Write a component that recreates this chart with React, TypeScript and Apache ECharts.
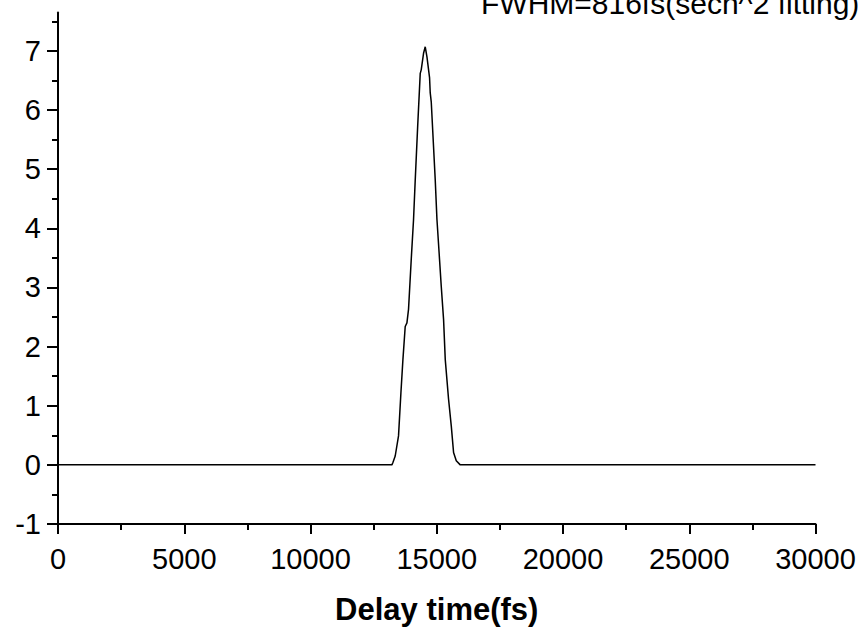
import React, { useEffect, useRef } from "react";
import * as echarts from "echarts";

// Delay time (fs) and signal
const delayFs = [
  0, 13224, 13264, 13355, 13486, 13581, 13660, 13751, 13819, 13882, 13989,
  14081, 14148, 14247, 14346, 14385, 14477, 14544, 14612, 14715, 14742, 14782,
  14940, 15008, 15111, 15178, 15270, 15337, 15468, 15575, 15666, 15773, 15931,
  30000,
];
const signal = [
  0, 0, 0.04, 0.15, 0.49, 1.22, 1.78, 2.34, 2.4, 2.63, 3.47, 4.15, 4.82, 5.75,
  6.62, 6.68, 6.96, 7.07, 6.9, 6.55, 6.29, 6.14, 4.82, 4.15, 3.47, 3.02, 2.46,
  1.78, 1.11, 0.66, 0.21, 0.07, 0, 0,
];

const yMajorTicks = [-1, 0, 1, 2, 3, 4, 5, 6, 7];
const yMinorTicks = [-0.5, 0.5, 1.5, 2.5, 3.5, 4.5, 5.5, 6.5, 7.5];
const xTitle = "Delay time(fs)";
const annotation = "FWHM=816fs(sech^2 fitting)";

const FONT = "'Liberation Sans', Arial, sans-serif";

export default function App() {
  const ref = useRef<HTMLDivElement>(null);
  useEffect(() => {
    if (!ref.current) return;
    const chart = echarts.init(ref.current, null, { renderer: "svg" });
    const yMin = -1;
    const yMax = 7.65;
    chart.setOption({
      animation: false,
      backgroundColor: "#fff",
      grid: { left: 58, right: 49.5, top: 12.5, bottom: 105 },
      xAxis: {
        type: "value",
        min: 0,
        max: 30000,
        interval: 5000,
        name: xTitle,
        nameLocation: "middle",
        nameGap: 70,
        nameTextStyle: {
          fontFamily: FONT,
          fontSize: 31,
          fontWeight: "bold",
          color: "#000",
        },
        axisLine: { onZero: false, lineStyle: { color: "#000", width: 2 } },
        axisTick: { show: true, inside: false, length: 10, lineStyle: { color: "#000", width: 2 } },
        minorTick: { show: true, splitNumber: 2, length: 6, lineStyle: { color: "#000", width: 2 } },
        axisLabel: {
          fontFamily: FONT,
          fontSize: 29,
          color: "#000",
          margin: 20,
          formatter: (v: number) => String(v),
        },
        splitLine: { show: false },
        minorSplitLine: { show: false },
      },
      yAxis: [
        {
          type: "value",
          min: yMin,
          max: yMax,
          axisLine: { onZero: false, lineStyle: { color: "#000", width: 2 } },
          axisTick: {
            show: true,
            inside: false,
            length: 11,
            customValues: yMajorTicks,
            lineStyle: { color: "#000", width: 2 },
          },
          axisLabel: {
            fontFamily: FONT,
            fontSize: 29,
            color: "#000",
            margin: 17,
            customValues: yMajorTicks,
            formatter: (v: number) => String(v),
          },
          splitLine: { show: false },
        },
        {
          type: "value",
          min: yMin,
          max: yMax,
          position: "left",
          offset: 0,
          axisLine: { show: false, onZero: false },
          axisTick: {
            show: true,
            inside: false,
            length: 6,
            customValues: yMinorTicks,
            lineStyle: { color: "#000", width: 2 },
          },
          axisLabel: { show: false },
          splitLine: { show: false },
        },
      ],
      graphic: [
        {
          type: "text",
          left: 481,
          top: -12,
          style: {
            text: annotation,
            fontFamily: FONT,
            fontSize: 30,
            fill: "#000",
          },
        },
      ],
      series: [
        {
          type: "line",
          xAxisIndex: 0,
          yAxisIndex: 0,
          showSymbol: false,
          symbol: "none",
          lineStyle: { color: "#000", width: 1.5 },
          data: delayFs.map((d, i) => [d, signal[i]]),
        },
      ],
    });
    return () => chart.dispose();
  }, []);
  return (
    <div
      ref={ref}
      style={{ position: "fixed", left: 0, top: 0, width: 865, height: 630 }}
    />
  );
}
